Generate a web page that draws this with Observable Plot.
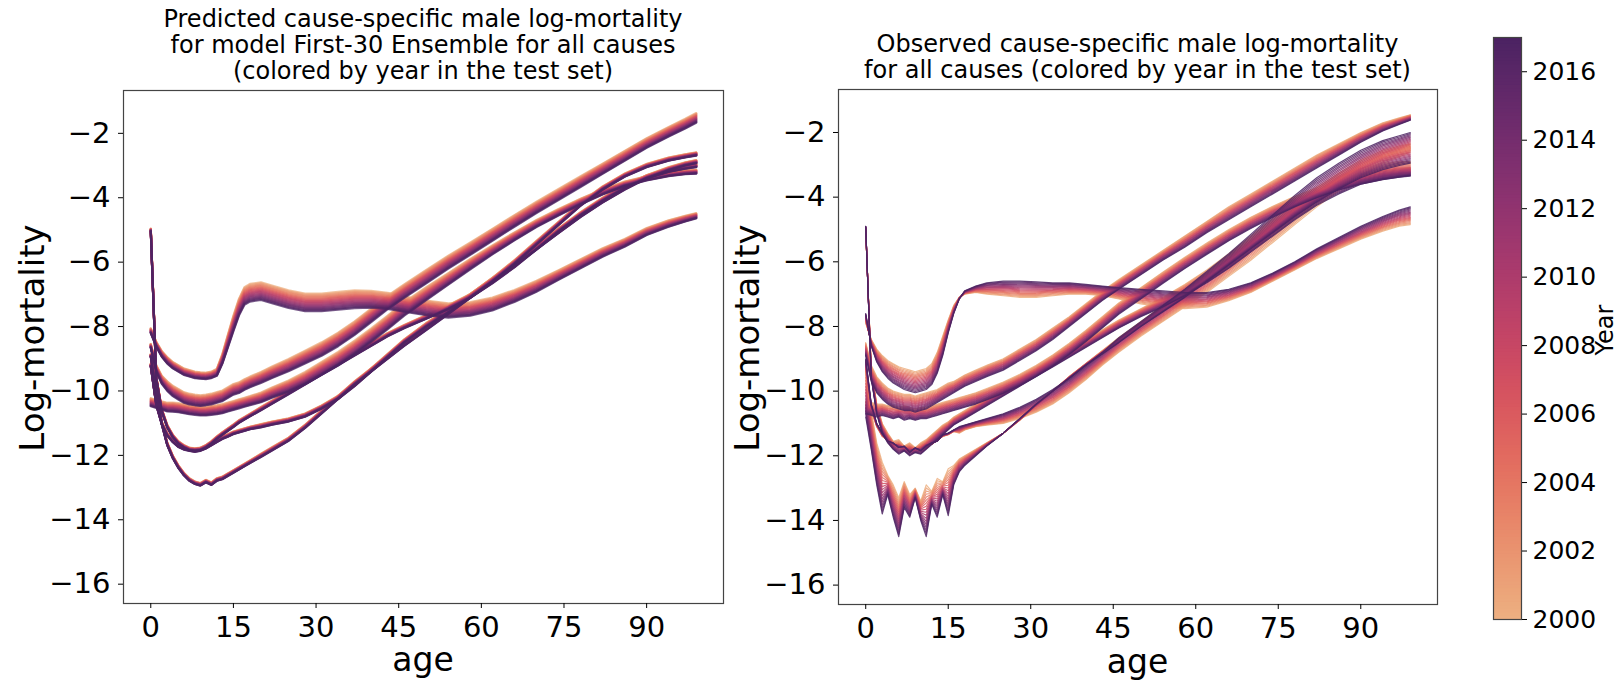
<!DOCTYPE html>
<html><head><meta charset="utf-8">
<script src="https://cdn.jsdelivr.net/npm/d3@7"></script>
<script src="https://cdn.jsdelivr.net/npm/@observablehq/plot@0.6"></script>
<style>
html,body{margin:0;padding:0;background:#fff;}
#root{position:relative;width:1622px;height:682px;overflow:hidden;font-family:"DejaVu Sans";}
#root > svg{position:absolute;}
</style></head><body><div id="root"></div>
<script>
// ---------- data ----------
const ages = [0,1,2,3,4,5,6,7,8,9,10,11,12,13,14,15,16,17,18,20,22,25,28,31,34,37,40,43,46,50,54,58,62,66,70,74,78,82,86,90,94,97,99];
const years = [2000,2001,2002,2003,2004,2005,2006,2007,2008,2009,2010,2011,2012,2013,2014,2015,2016,2017];
const causes = ["A","B","C","D","E","F"];
const xTicks = [0,15,30,45,60,75,90];
const yTicks = [-16,-14,-12,-10,-8,-6,-4,-2];
const cbTicks = [2000,2002,2004,2006,2008,2010,2012,2014,2016];
const flareColors = ["#edb081","#e98d6b","#e3685c","#d14a61","#b13c6c","#8f3371","#6c2b6d","#4b2362"];

// Predicted panel: mid curve per cause and spread (2000 value minus 2017 value)
const predMidA = [-8.13,-8.55,-8.85,-9.05,-9.2,-9.3,-9.4,-9.45,-9.5,-9.52,-9.53,-9.5,-9.42,-9.0,-8.45,-7.9,-7.4,-7.05,-6.95, -6.9,-7.0,-7.15,-7.25,-7.25,-7.2,-7.15,-7.15,-7.2,-7.3, -7.42,-7.5,-7.45,-7.3,-7.05,-6.75, -6.4,-6.05,-5.7,-5.4,-5.05,-4.8,-4.65,-4.56];
const predMidB = [-8.6,-9.3,-9.65,-9.85,-10.0,-10.1,-10.2,-10.25,-10.28,-10.3,-10.28,-10.25,-10.2,-10.15,-10.05,-9.95,-9.9,-9.8,-9.72, -9.58,-9.42,-9.2,-8.95,-8.7,-8.4,-8.05,-7.65,-7.25,-6.9, -6.45,-6.0,-5.58,-5.15,-4.72,-4.3, -3.9,-3.5,-3.1,-2.7,-2.3,-1.95,-1.7,-1.52];
const predMidC = [-10.35,-10.4,-10.45,-10.5,-10.5,-10.52,-10.55,-10.58,-10.6,-10.62,-10.62,-10.6,-10.58,-10.55,-10.5,-10.45,-10.4,-10.35,-10.3, -10.2,-10.05,-9.85,-9.6,-9.3,-9.0,-8.65,-8.27,-7.87,-7.45, -6.98,-6.52,-6.06,-5.62,-5.2,-4.8, -4.45,-4.12,-3.82,-3.57,-3.4,-3.27,-3.21,-3.19];
const predMidD = [-9.2,-10.4,-11.0,-11.35,-11.55,-11.7,-11.78,-11.82,-11.85,-11.82,-11.75,-11.65,-11.55,-11.45,-11.38,-11.3,-11.25,-11.2,-11.15, -11.08,-11.0,-10.9,-10.75,-10.5,-10.2,-9.8,-9.35,-8.9,-8.45, -7.95,-7.5,-7.05,-6.55,-6.0,-5.4, -4.8,-4.2,-3.7,-3.3,-3.0,-2.8,-2.7,-2.64];
const predMidE = [-5.0,-9.6,-10.6,-11.1,-11.4,-11.6,-11.72,-11.8,-11.82,-11.8,-11.72,-11.6,-11.45,-11.32,-11.2,-11.08,-10.95,-10.85,-10.75, -10.55,-10.35,-10.05,-9.75,-9.45,-9.15,-8.85,-8.55,-8.25,-8.0, -7.7,-7.4,-7.05,-6.6,-6.1,-5.55, -5.0,-4.5,-4.05,-3.65,-3.35,-3.15,-3.05,-3.0];
const predMidF = [-8.9,-10.0,-11.0,-11.65,-12.05,-12.35,-12.58,-12.75,-12.85,-12.9,-12.8,-12.88,-12.75,-12.7,-12.6,-12.5,-12.4,-12.3,-12.2, -12.0,-11.8,-11.5,-11.1,-10.65,-10.2,-9.75,-9.35,-8.95,-8.55, -8.05,-7.55,-7.05,-6.55,-6.05,-5.55, -5.05,-4.55,-4.1,-3.7,-3.35,-3.1,-2.95,-2.88];

const predSpreadA = [0.15,0.15,0.18,0.2,0.2,0.2,0.2,0.2,0.2,0.2,0.2,0.2,0.22,0.3,0.4,0.48,0.52,0.55,0.55, 0.55,0.55,0.55,0.55,0.55,0.55,0.55,0.52,0.5,0.48, 0.46,0.44,0.42,0.4,0.37,0.34, 0.3,0.28,0.26,0.24,0.22,0.2,0.18,0.16];
const predSpreadB = [0.12,0.2,0.25,0.3,0.32,0.33,0.33,0.33,0.33,0.33,0.33,0.33,0.33,0.33,0.33,0.33,0.33,0.33,0.33, 0.34,0.36,0.38,0.4,0.42,0.42,0.42,0.42,0.42,0.42, 0.42,0.4,0.38,0.37,0.36,0.35, 0.34,0.33,0.32,0.31,0.3,0.3,0.3,0.3];
const predSpreadC = [0.25,0.25,0.25,0.27,0.28,0.28,0.28,0.28,0.28,0.28,0.28,0.28,0.28,0.28,0.28,0.28,0.28,0.28,0.28, 0.3,0.32,0.35,0.38,0.4,0.42,0.42,0.42,0.42,0.42, 0.4,0.36,0.32,0.28,0.25,0.22, 0.2,0.18,0.16,0.14,0.13,0.12,0.12,0.12];
const predSpreadThin = [0.08,0.08,0.08,0.08,0.08,0.08,0.08,0.08,0.08,0.08,0.08,0.08,0.08,0.08,0.08,0.08,0.08,0.08,0.08, 0.1,0.1,0.1,0.1,0.1,0.1,0.1,0.1,0.1,0.1, 0.12,0.12,0.12,0.12,0.12,0.12, 0.1,0.1,0.1,0.1,0.1,0.1,0.1,0.1];

// Observed panel: curve read for the first (2000) and last (2017) test years
const obsA2000 = [-7.9,-8.4,-8.7,-8.9,-9.05,-9.15,-9.25,-9.3,-9.35,-9.4,-9.35,-9.3,-9.15,-8.8,-8.3,-7.8,-7.35,-7.1,-7.0, -6.95,-7.0,-7.05,-7.1,-7.1,-7.05,-7.0,-7.0,-7.05,-7.15, -7.3,-7.4,-7.45,-7.4,-7.2,-6.95, -6.6,-6.25,-5.9,-5.6,-5.3,-5.05,-4.9,-4.85];
const obsA2017 = [-7.6,-8.6,-9.1,-9.4,-9.6,-9.75,-9.85,-9.95,-10.0,-10.05,-10.0,-9.95,-9.8,-9.45,-8.9,-8.2,-7.6,-7.15,-6.9, -6.75,-6.65,-6.6,-6.6,-6.62,-6.65,-6.65,-6.7,-6.75,-6.8, -6.85,-6.9,-6.95,-6.95,-6.85,-6.65, -6.35,-6.0,-5.6,-5.25,-4.9,-4.6,-4.4,-4.3];
const obsB2000 = [-8.5,-9.2,-9.55,-9.75,-9.9,-10.0,-10.05,-10.1,-10.1,-10.15,-10.1,-10.05,-10.0,-9.95,-9.85,-9.75,-9.7,-9.6,-9.5, -9.35,-9.2,-9.0,-8.7,-8.4,-8.05,-7.7,-7.3,-6.9,-6.55, -6.1,-5.65,-5.2,-4.75,-4.3,-3.9, -3.5,-3.1,-2.7,-2.35,-2.0,-1.7,-1.55,-1.45];
const obsB2017 = [-8.9,-9.7,-10.05,-10.25,-10.4,-10.5,-10.55,-10.6,-10.6,-10.65,-10.6,-10.55,-10.45,-10.35,-10.25,-10.15,-10.05,-9.95,-9.85, -9.7,-9.55,-9.35,-9.05,-8.75,-8.4,-8.0,-7.6,-7.2,-6.85, -6.4,-5.95,-5.55,-5.1,-4.7,-4.3, -3.9,-3.5,-3.1,-2.7,-2.3,-1.95,-1.75,-1.62];
const obsC2000 = [-10.3,-10.35,-10.4,-10.4,-10.45,-10.45,-10.5,-10.45,-10.5,-10.55,-10.5,-10.5,-10.45,-10.4,-10.35,-10.3,-10.25,-10.2,-10.15, -10.05,-9.92,-9.72,-9.48,-9.2,-8.88,-8.52,-8.12,-7.7,-7.27, -6.8,-6.32,-5.86,-5.42,-5.0,-4.62, -4.28,-3.97,-3.7,-3.47,-3.3,-3.17,-3.1,-3.07];
const obsC2017 = [-10.7,-10.75,-10.8,-10.75,-10.8,-10.85,-10.8,-10.9,-10.85,-10.9,-10.85,-10.85,-10.8,-10.75,-10.7,-10.65,-10.6,-10.55,-10.5, -10.4,-10.27,-10.07,-9.83,-9.55,-9.23,-8.87,-8.47,-8.05,-7.62, -7.15,-6.67,-6.21,-5.77,-5.35,-4.97, -4.62,-4.3,-4.02,-3.78,-3.6,-3.46,-3.38,-3.33];
const obsD2000 = [-9.4,-10.6,-11.1,-11.4,-11.5,-11.7,-11.6,-11.8,-11.7,-11.85,-11.7,-11.6,-11.65,-11.5,-11.4,-11.35,-11.25,-11.3,-11.2, -11.1,-11.05,-11.0,-10.85,-10.65,-10.4,-10.05,-9.65,-9.2,-8.8, -8.3,-7.85,-7.4,-6.95,-6.45,-5.95, -5.4,-4.85,-4.3,-3.8,-3.35,-2.95,-2.75,-2.6];
const obsD2017 = [-9.0,-10.4,-11.0,-11.3,-11.55,-11.6,-11.75,-11.7,-11.9,-11.75,-11.85,-11.7,-11.6,-11.55,-11.35,-11.3,-11.2,-11.1,-11.05, -10.95,-10.85,-10.7,-10.5,-10.25,-9.95,-9.6,-9.2,-8.8,-8.35, -7.85,-7.35,-6.85,-6.3,-5.75,-5.15, -4.55,-3.95,-3.4,-2.95,-2.55,-2.25,-2.1,-2.0];
const obsE2000 = [-5.0,-9.3,-10.4,-11.0,-11.3,-11.55,-11.5,-11.7,-11.6,-11.75,-11.6,-11.5,-11.35,-11.2,-11.05,-10.95,-10.8,-10.7,-10.6, -10.4,-10.2,-9.9,-9.6,-9.3,-9.0,-8.7,-8.4,-8.1,-7.8, -7.45,-7.1,-6.7,-6.25,-5.75,-5.2, -4.65,-4.15,-3.7,-3.35,-3.1,-2.95,-2.9,-2.9];
const obsE2017 = [-4.9,-9.6,-10.7,-11.3,-11.6,-11.8,-11.95,-11.85,-12.0,-11.9,-11.95,-11.8,-11.65,-11.5,-11.35,-11.2,-11.05,-10.95,-10.85, -10.65,-10.45,-10.15,-9.85,-9.55,-9.25,-8.95,-8.65,-8.35,-8.05, -7.7,-7.4,-7.05,-6.65,-6.2,-5.7, -5.2,-4.7,-4.25,-3.9,-3.6,-3.45,-3.38,-3.35];
const obsF2000 = [-9.2,-10.6,-11.6,-12.2,-12.6,-12.9,-13.3,-12.8,-13.2,-13.0,-13.4,-12.9,-13.1,-12.7,-12.8,-12.4,-12.3,-12.1,-12.0, -11.8,-11.6,-11.3,-10.9,-10.45,-10.0,-9.55,-9.15,-8.75,-8.35, -7.85,-7.35,-6.85,-6.35,-5.8,-5.3, -4.75,-4.2,-3.7,-3.25,-2.85,-2.55,-2.42,-2.35];
const obsF2017 = [-10.8,-11.8,-12.9,-13.8,-13.2,-13.9,-14.5,-13.6,-13.9,-13.3,-14.0,-14.5,-13.5,-13.9,-13.2,-13.85,-12.9,-12.5,-12.3, -12.0,-11.7,-11.3,-10.85,-10.4,-10.0,-9.6,-9.2,-8.85,-8.5, -8.0,-7.55,-7.1,-6.6,-6.1,-5.6, -5.1,-4.6,-4.15,-3.75,-3.4,-3.15,-3.02,-2.95];

// ---------- tables ----------
const predCurves = {A:[predMidA,predSpreadA],B:[predMidB,predSpreadB],C:[predMidC,predSpreadC],D:[predMidD,predSpreadThin],E:[predMidE,predSpreadThin],F:[predMidF,predSpreadThin]};
const obsCurves = {A:[obsA2000,obsA2017],B:[obsB2000,obsB2017],C:[obsC2000,obsC2017],D:[obsD2000,obsD2017],E:[obsE2000,obsE2017],F:[obsF2000,obsF2017]};
const span = years[years.length-1] - years[0];
const predRows = [], obsRows = [];
for (const yr of years) {
  const w = (yr - years[0]) / span;
  for (const c of causes) {
    const [mid, spr] = predCurves[c];
    const [first, last] = obsCurves[c];
    ages.forEach((a, i) => {
      predRows.push({key: c + yr, year: yr, age: a, value: mid[i] + spr[i] * (0.5 - w)});
      obsRows.push({key: c + yr, year: yr, age: a, value: first[i] + (last[i] - first[i]) * w});
    });
  }
}

const flare = d3.interpolateRgbBasis(flareColors);
const colorScale = {type: "linear", domain: [2000, 2017], interpolate: flare};
const baseStyle = {fontFamily: "DejaVu Sans", fontSize: "29px", color: "#000", background: "transparent", overflow: "visible"};

function panel(rows, o) {
  const svg = Plot.plot({
    width: o.width, height: 682,
    marginLeft: o.ml, marginRight: o.mr, marginTop: o.mt, marginBottom: o.mb,
    x: {domain: [-4.95, 103.95]},
    y: {domain: [-16.6, -0.67]},
    color: colorScale,
    style: baseStyle,
    marks: [
      Plot.line(rows, {x: "age", y: "value", z: "key", stroke: "year", strokeWidth: o.sw, strokeOpacity: o.so}),
      Plot.frame({stroke: "#444", strokeWidth: 1.2}),
      Plot.axisX({ticks: xTicks, tickSize: 5, tickPadding: 8, label: null, fontSize: 29, tickFormat: d => String(d)}),
      Plot.axisY({ticks: yTicks, tickSize: 5, tickPadding: 8, label: null, fontSize: 29})
    ]
  });
  svg.style.left = o.left + "px";
  svg.style.top = "0px";
  return svg;
}

const root = document.getElementById("root");
root.appendChild(panel(predRows, {left: 0, width: 760, ml: 123, mr: 37, mt: 90, mb: 79, sw: 2.2, so: 0.75}));
root.appendChild(panel(obsRows, {left: 760, width: 700, ml: 78, mr: 23, mt: 89, mb: 78, sw: 1.2, so: 0.85}));

// colorbar
const cbSteps = d3.range(2000, 2017, 0.1);
const cb = Plot.plot({
  width: 182, height: 682, marginLeft: 53, marginRight: 101, marginTop: 37, marginBottom: 63,
  x: {domain: [0, 1], axis: null},
  y: {domain: [2000, 2017]},
  color: colorScale,
  style: baseStyle,
  marks: [
    Plot.rect(cbSteps, {x1: 0, x2: 1, y1: d => d, y2: d => Math.min(2017, d + 0.13), fill: d => d + 0.05}),
    Plot.frame({stroke: "#444", strokeWidth: 1.2}),
    Plot.axisY({anchor: "right", ticks: cbTicks, tickSize: 5, tickPadding: 6, label: null, fontSize: 25, tickFormat: d => String(d)})
  ]
});
cb.style.left = "1440px"; cb.style.top = "0px";
root.appendChild(cb);

// titles and axis labels
const ns = "http://www.w3.org/2000/svg";
const ov = document.createElementNS(ns, "svg");
ov.setAttribute("width", 1622); ov.setAttribute("height", 682);
ov.style.left = "0px"; ov.style.top = "0px"; ov.style.pointerEvents = "none";
root.appendChild(ov);
function txt(s, x, y, size, rot) {
  const t = document.createElementNS(ns, "text");
  t.textContent = s;
  t.setAttribute("x", x); t.setAttribute("y", y);
  t.setAttribute("text-anchor", "middle");
  t.setAttribute("font-family", "DejaVu Sans");
  t.setAttribute("font-size", size);
  t.setAttribute("fill", "#000");
  if (rot) t.setAttribute("transform", `rotate(-90 ${x} ${y})`);
  ov.appendChild(t);
}
txt("Predicted cause-specific male log-mortality", 423, 27, 24);
txt("for model First-30 Ensemble for all causes", 423, 53, 24);
txt("(colored by year in the test set)", 423, 79, 24);
txt("Observed cause-specific male log-mortality", 1137.5, 52, 24);
txt("for all causes (colored by year in the test set)", 1137.5, 78, 24);
txt("age", 423, 671, 33);
txt("age", 1137.5, 673, 33);
txt("Log-mortality", 44, 338, 34, true);
txt("Log-mortality", 759, 338, 34, true);
txt("Year", 1613, 330, 24, true);
</script></body></html>
